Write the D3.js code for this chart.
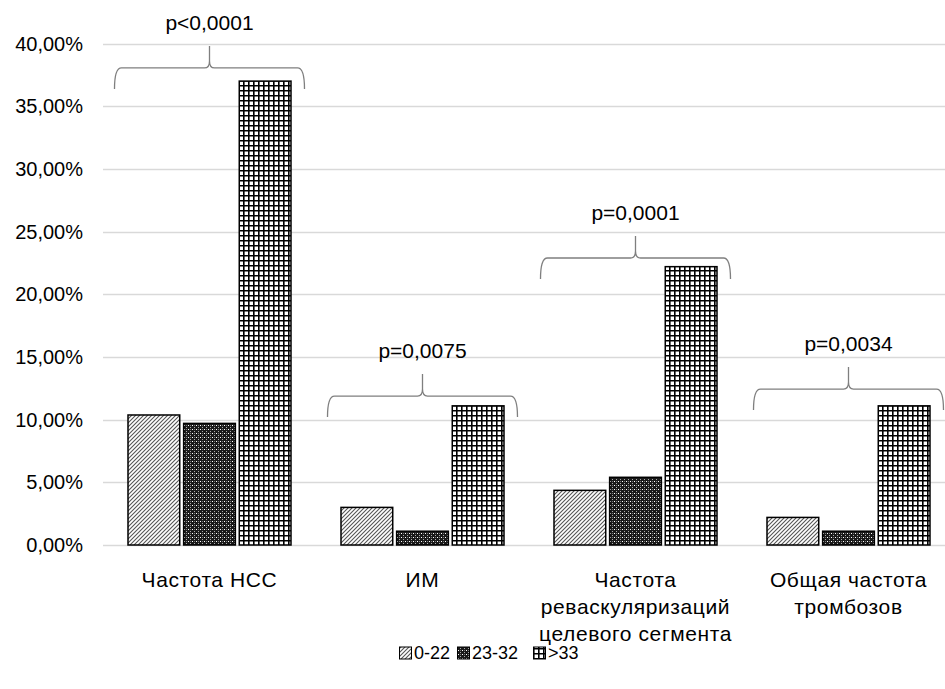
<!DOCTYPE html>
<html>
<head>
<meta charset="utf-8">
<script src="https://cdn.jsdelivr.net/npm/d3@7"></script>
<style>
  body { margin: 0; background: #fff; }
  text { font-family: "Liberation Sans", Arial, sans-serif; fill: #000; }
</style>
</head>
<body>
<div id="chart"></div>
<script>
// data
const categories = [
  ["Частота НСС"],
  ["ИМ"],
  ["Частота", "реваскуляризаций", "целевого сегмента"],
  ["Общая частота", "тромбозов"]
];
const seriesNames = ["0-22", "23-32", ">33"];
const values022 = [0.1037, 0.0300, 0.0436, 0.0220];
const values2332 = [0.0970, 0.0110, 0.0540, 0.0110];
const values33 = [0.3700, 0.1110, 0.2220, 0.1110];
const pLabels = ["p<0,0001", "p=0,0075", "p=0,0001", "p=0,0034"];
const braceLevels = [0.3805, 0.1188, 0.2289, 0.1244];
const yTicks = [0, 0.05, 0.10, 0.15, 0.20, 0.25, 0.30, 0.35, 0.40];

const width = 945, height = 689;
const margin = { top: 43.5, right: -10, bottom: 144, left: 103 };

const svg = d3.select("#chart").append("svg")
  .attr("width", width)
  .attr("height", height);

// patterns
const defs = svg.append("defs");

const p1 = defs.append("pattern").attr("id", "pat0")
  .attr("patternUnits", "userSpaceOnUse").attr("width", 4).attr("height", 4);
p1.append("rect").attr("width", 4).attr("height", 4).attr("fill", "#fff");
p1.append("path").attr("d", "M-1,1 L1,-1 M0,4 L4,0 M3,5 L5,3")
  .attr("stroke", "#555").attr("stroke-width", 1.1);

const p2 = defs.append("pattern").attr("id", "pat1")
  .attr("patternUnits", "userSpaceOnUse").attr("width", 4).attr("height", 4);
p2.append("rect").attr("width", 4).attr("height", 4).attr("fill", "#1a1a1a");
p2.append("rect").attr("x", 1).attr("y", 1).attr("width", 1).attr("height", 1).attr("fill", "#fff");
p2.append("rect").attr("x", 3).attr("y", 3).attr("width", 1).attr("height", 1).attr("fill", "#aaa");
p2.append("rect").attr("x", 3).attr("y", 1).attr("width", 1).attr("height", 1).attr("fill", "#777");

const p3 = defs.append("pattern").attr("id", "pat2")
  .attr("patternUnits", "userSpaceOnUse").attr("width", 5).attr("height", 5);
p3.append("rect").attr("width", 5).attr("height", 5).attr("fill", "#fff");
p3.append("path").attr("d", "M0.8,0 V5 M0,0.8 H5")
  .attr("stroke", "#000").attr("stroke-width", 1.6);

const y = d3.scaleLinear().domain([0, 0.40]).range([height - margin.bottom, margin.top]);

const x0 = d3.scaleBand()
  .domain(d3.range(categories.length))
  .range([margin.left, width - margin.right])
  .padding(0);

const x1 = d3.scaleBand()
  .domain(seriesNames)
  .range([25, x0.bandwidth() - 25])
  .paddingInner(0.07);

const ru = d3.formatLocale({ decimal: ",", thousands: " ", grouping: [3], currency: ["", ""], percent: "%" });
const fmt = ru.format(".2%");

// gridlines
svg.append("g").selectAll("line")
  .data(yTicks)
  .join("line")
  .attr("x1", margin.left)
  .attr("x2", width)
  .attr("y1", d => Math.round(y(d)) + 0.5)
  .attr("y2", d => Math.round(y(d)) + 0.5)
  .attr("stroke", "#d9d9d9")
  .attr("stroke-width", 1.3);

// y tick labels
svg.append("g").selectAll("text")
  .data(yTicks)
  .join("text")
  .attr("x", 83)
  .attr("y", d => y(d))
  .attr("dy", "0.35em")
  .attr("text-anchor", "end")
  .style("font-size", "20px")
  .text(d => fmt(d));

// bars
const seriesValues = [values022, values2332, values33];
const groups = svg.append("g").selectAll("g")
  .data(categories.map((c, i) => i))
  .join("g")
  .attr("transform", i => `translate(${x0(i)},0)`);

groups.selectAll("rect")
  .data(i => seriesNames.map((s, k) => ({ key: s, k, v: seriesValues[k][i] })))
  .join("rect")
  .attr("x", d => x1(d.key))
  .attr("width", x1.bandwidth())
  .attr("y", d => y(d.v))
  .attr("height", d => y(0) - y(d.v))
  .attr("fill", d => `url(#pat${d.k})`)
  .attr("stroke", "#000")
  .attr("stroke-width", 1.5);

// braces with p-values
groups.each(function (i) {
  const g = d3.select(this);
  const bw = x0.bandwidth();
  const xl = bw / 2 - 95, xr = bw / 2 + 95, xc = bw / 2;
  const h = y(braceLevels[i]);
  const path = `M${xl},${h + 21} Q${xl},${h} ${xl + 7},${h} L${xc - 5},${h} Q${xc},${h} ${xc},${h - 7} L${xc},${h - 22}` +
    ` M${xc},${h - 7} Q${xc},${h} ${xc + 5},${h} L${xr - 7},${h} Q${xr},${h} ${xr},${h + 21}`;
  g.append("path")
    .attr("d", path)
    .attr("fill", "none")
    .attr("stroke", "#7f7f7f")
    .attr("stroke-width", 1.3);
  g.append("text")
    .attr("x", xc)
    .attr("y", h - 45)
    .attr("dy", "0.35em")
    .attr("text-anchor", "middle")
    .style("font-size", "21px")
    .text(pLabels[i]);
});

// x labels
groups.append("text")
  .attr("text-anchor", "middle")
  .style("font-size", "21px")
  .style("letter-spacing", "0.6px")
  .selectAll("tspan")
  .data(i => categories[i])
  .join("tspan")
  .attr("x", x0.bandwidth() / 2)
  .attr("y", (d, j) => 587 + j * 27)
  .text(d => d);

// legend
const legend = svg.append("g").attr("transform", "translate(399,653)");
const legendX = [0, 58, 134];
const items = legend.selectAll("g")
  .data(seriesNames)
  .join("g")
  .attr("transform", (d, k) => `translate(${legendX[k]},0)`);
items.append("rect")
  .attr("x", 0.5).attr("y", -6)
  .attr("width", 12).attr("height", 12)
  .attr("fill", (d, k) => `url(#pat${k})`)
  .attr("stroke", "#000")
  .attr("stroke-width", 1);
items.append("text")
  .attr("x", 15)
  .attr("y", 0)
  .attr("dy", "0.35em")
  .style("font-size", "18px")
  .text(d => d);
</script>
</body>
</html>
